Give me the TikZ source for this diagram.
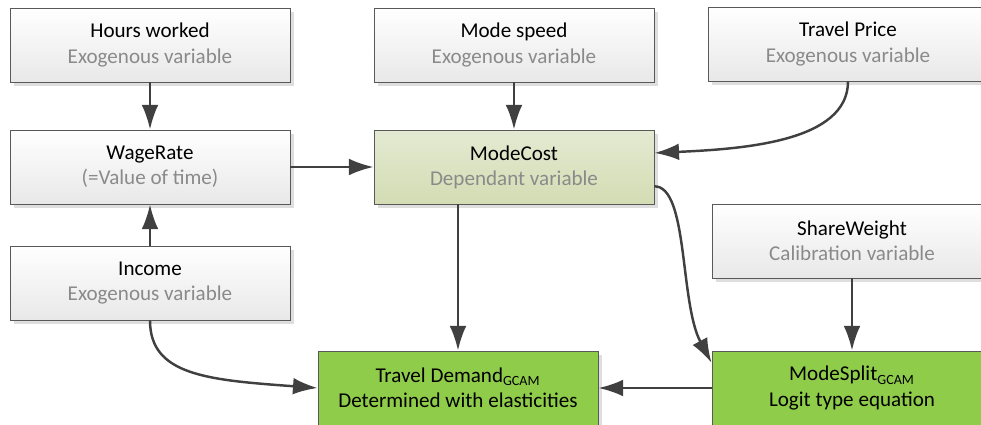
\documentclass[tikz,border=0pt]{standalone}
\usepackage{fontspec}
\setmainfont{Carlito}
\usetikzlibrary{arrows.meta,shadows}

\definecolor{linegray}{HTML}{404040}
\definecolor{subgray}{HTML}{8A8A8A}
\definecolor{costtop}{HTML}{E4EAD2}
\definecolor{costbot}{HTML}{D3DCB3}
\definecolor{greenbox}{HTML}{8FCC4A}

\newcommand{\vartext}[2]{#1\\\textcolor{subgray}{#2}}

\tikzset{
  varbox/.style={draw=black!65, line width=0.5pt, top color=white, bottom color=black!9,
    minimum width=5.6cm, minimum height=1.48cm, inner sep=0pt, align=center,
    font=\fontsize{12}{14.3}\selectfont,
    drop shadow={shadow xshift=2.2pt, shadow yshift=-2.2pt, fill=black, opacity=0.13}},
  costbox/.style={top color=costtop, bottom color=costbot},
  outbox/.style={varbox, top color=greenbox, bottom color=greenbox},
  conn/.style={draw=linegray, line width=1.4pt, -{Latex[length=14pt,width=9.5pt]}}
}

\begin{document}
\begin{tikzpicture}[x=0.02cm,y=-0.02cm]
  \useasboundingbox (0,0) rectangle (981,425);

  \node[varbox] (hours) at (150,45) {\vartext{Hours worked}{Exogenous variable}};
  \node[varbox] (speed) at (514,45) {\vartext{Mode speed}{Exogenous variable}};
  \node[varbox] (price) at (848,44) {\vartext{Travel Price}{Exogenous variable}};
  \node[varbox] (wage) at (150,167) {\vartext{WageRate}{(=Value of time)}};
  \node[varbox,costbox] (cost) at (514,167) {\vartext{ModeCost}{Dependant variable}};
  \node[varbox] (income) at (150,283) {\vartext{Income}{Exogenous variable}};
  \node[varbox] (weight) at (852,241) {\vartext{ShareWeight}{Calibration variable}};
  \node[outbox] (demand) at (458,388) {Travel Demand\textsubscript{GCAM}\\Determined with elasticities};
  \node[outbox] (split) at (852,388) {ModeSplit\textsubscript{GCAM}\\Logit type equation};

  % straight links
  \draw[conn] (hours) -- (wage);
  \draw[conn] (speed) -- (cost);
  \draw[conn] (income) -- (wage);
  \draw[conn] (wage) -- (cost);
  \draw[conn] (cost.south -| demand.north) -- (demand.north);
  \draw[conn] (weight) -- (split);
  \draw[conn] (split) -- (demand);

  % curved links
  \draw[conn] (price.south) .. controls +(0,60) and +(90,-4) .. ([yshift=8pt]cost.east);
  \draw[conn] ([yshift=-11pt]cost.east) .. controls +(34,0) and +(-32,-60) .. ([yshift=-7pt]split.north west);
  \draw[conn] (income.south) .. controls +(0,55) and +(-110,-8) .. (demand.west);
\end{tikzpicture}
\end{document}
